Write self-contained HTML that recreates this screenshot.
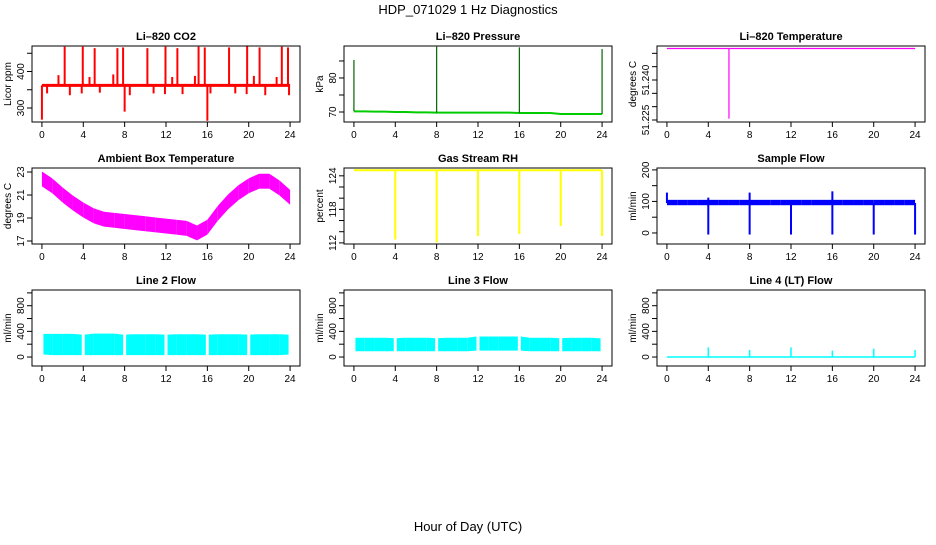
<!DOCTYPE html>
<html><head><meta charset="utf-8"><style>
body{margin:0;background:#fff}
svg text{font-family:"Liberation Sans",Helvetica,sans-serif}
</style></head><body>
<svg id="c" width="936" height="540" xmlns="http://www.w3.org/2000/svg">
<rect width="936" height="540" fill="#fff"/>
<text x="468" y="14" text-anchor="middle" font-size="13">HDP_071029  1 Hz Diagnostics</text>
<text x="468" y="531" text-anchor="middle" font-size="13">Hour of Day (UTC)</text>
</svg>
<script>
// ---- data ----
const hours = [0,1,2,3,4,5,6,7,8,9,10,11,12,13,14,15,16,17,18,19,20,21,22,23,24];
const xTicks = [0,4,8,12,16,20,24];
// CO2
const co2Base = 362;
const co2SpikeT = [2.2,3.95,5.1,7.3,7.85,10.2,11.95,13.1,15.15,15.75,18.1,19.85,21.05,23.2,23.8,1.6,4.6,6.9,12.6,14.8,20.5,22.7,0.5,2.7,3.85,5.6,8.5,10.8,11.9,13.6,16.3,18.7,19.8,21.6,23.9,0,8,16];
const co2SpikeV = [468,468,464,464,466,464,468,464,468,466,466,470,466,468,466,390,385,392,385,388,388,385,340,335,340,342,335,340,338,338,340,340,338,335,335,268,290,265];
// Pressure
const presBase = [70.2,70.2,70.1,70.1,70.0,70.0,69.9,69.9,69.8,69.8,69.8,69.8,69.8,69.8,69.8,69.8,69.7,69.7,69.7,69.7,69.4,69.4,69.4,69.4,69.4];
const presSpikeT = [0,8,16,24];
const presSpikeV = [85.3,89.2,89.0,88.5];
// Li-820 temperature
const tempBase = 51.2518;
const tempSpikeT = [6];
const tempSpikeV = [51.2255];
// Ambient box temp
const ambMid = [22.4,21.8,21.0,20.3,19.7,19.2,18.9,18.8,18.7,18.6,18.5,18.4,18.3,18.2,18.1,17.7,18.2,19.4,20.4,21.2,21.8,22.2,22.2,21.6,20.8];
const ambHalf = 0.65;
// RH
const rhBase = 125;
const rhSpikeT = [4,8,12,16,20,24];
const rhSpikeV = [112.6,112.1,113.2,113.6,115.0,113.2];
// Sample flow
const sfHi = 105, sfLo = 88;
const sfSpikeT = [0,4,4,8,8,12,16,16,20,24];
const sfSpikeV = [128,-5,112,128,-5,-5,132,-5,-5,-5];
// Line flows
const l2Hi = [360,360,360,360,350,365,365,365,350,355,355,355,350,355,355,355,350,355,355,355,350,355,355,355,350];
const l2Lo = [40,30,30,30,30,30,30,30,30,30,30,30,30,30,30,30,30,30,30,30,30,30,30,30,40];
const l3Hi = [300,300,300,300,295,300,300,300,295,300,300,300,320,320,320,320,320,300,300,300,295,300,300,300,290];
const l3Lo = [90,90,90,90,90,90,90,90,90,90,90,90,100,100,100,100,100,90,90,90,90,90,90,90,90];
const l4Base = 0;
const l4SpikeT = [4,8,12,16,20,24];
const l4SpikeV = [150,110,150,100,130,110];

// ---- layout ----
const NS='http://www.w3.org/2000/svg';
const svg=document.getElementById('c');
const colL=[32,344,657], rowT=[46,168,290], W=268, H=76;
function mk(tag,attrs,parent){const e=document.createElementNS(NS,tag);for(const k in attrs)e.setAttribute(k,attrs[k]);(parent||svg).appendChild(e);return e;}
function panel(c,r,name,title,ylab,ymin,ymax,yt,yl){
  const g=mk('g',{});
  
  
  const L=colL[c],T=rowT[r];
  const sx=h=>L+(h+0.96)/25.92*W;
  const sy=v=>T+H-(v-ymin)/(ymax-ymin)*H;
  const t=mk('text',{x:L+W/2,y:T-6,'text-anchor':'middle','font-size':11,'font-weight':'bold'},g);t.textContent=title;
  
  const yl2=mk('text',{transform:`translate(${L-21},${T+H/2}) rotate(-90)`,'text-anchor':'middle','font-size':10},g);yl2.textContent=ylab;
  
  xTicks.forEach(h=>{const x=sx(h);mk('line',{x1:x,x2:x,y1:T+H,y2:T+H+5,stroke:'#000'},g);
    const tx=mk('text',{x:x,y:T+H+16,'text-anchor':'middle','font-size':10},g);tx.textContent=h;
    });
  yt.forEach((v,i)=>{const y=sy(v);mk('line',{x1:L-5,x2:L,y1:y,y2:y,stroke:'#000'},g);
    if(yl[i]!==''){const tx=mk('text',{transform:`translate(${L-8},${y}) rotate(-90)`,'text-anchor':'middle','font-size':10},g);tx.textContent=yl[i];
    }});
  return {g,sx,sy,L,T,close:()=>{const f=mk('rect',{x:L,y:T,width:W,height:H,fill:'none',stroke:'#000'},g);}};
}
function spikes(p,ts,vs,base,col,w,name){ts.forEach((t,i)=>{const b=typeof base==='function'?base(t):base;const l=mk('line',{x1:p.sx(t),x2:p.sx(t),y1:p.sy(b),y2:p.sy(vs[i]),stroke:col,'stroke-width':w},p.g);});}
function band(p,hi,lo,col,name,gaps){
  hours.slice(0,-1).forEach((h,i)=>{
    const x0=p.sx(h)+(gaps&&h%4==0?1.5:0), x1=p.sx(h+1)-(gaps&&(h+1)%4==0?1.5:0);
    const pts=`${x0},${p.sy(hi[i])} ${x1},${p.sy(hi[i+1])} ${x1},${p.sy(lo[i+1])} ${x0},${p.sy(lo[i])}`;
    const e=mk('polygon',{points:pts,fill:col},p.g);});
}
function line(p,vals,col,w,name){const pts=hours.map((h,i)=>p.sx(h)+','+p.sy(vals[i])).join(' ');const e=mk('polyline',{points:pts,fill:'none',stroke:col,'stroke-width':w},p.g);}

// CO2
let p=panel(0,0,'co2','Li\u2013820 CO2','Licor ppm',261.6,469.9,[300,350,400,450],['300','','400','']);
line(p,hours.map(()=>co2Base),'#f00',3,'co2-line');spikes(p,co2SpikeT,co2SpikeV,co2Base,'#f00',2,'co2-spike');p.close();
// Pressure
p=panel(1,0,'pressure','Li\u2013820 Pressure','kPa',67.06,89.4,[70,75,80,85],['70','','80','']);
line(p,presBase,'#0c0',2,'pressure-line');spikes(p,presSpikeT,presSpikeV,t=>presBase[Math.round(t)],'#060',1.2,'pressure-spike');p.close();
// Temperature
p=panel(2,0,'li820-temp','Li\u2013820 Temperature','degrees C',51.22425,51.25275,[51.225,51.230,51.235,51.240,51.245,51.250],['51.225','','','51.240','','']);
line(p,hours.map(()=>tempBase),'#f0f',1.2,'temp-line');spikes(p,tempSpikeT,tempSpikeV,tempBase,'#f0f',1.2,'temp-spike');p.close();
// Ambient
p=panel(0,1,'ambient','Ambient Box Temperature','degrees C',16.74,23.35,[17,19,21,23],['17','19','21','23']);
band(p,ambMid.map(v=>v+ambHalf),ambMid.map(v=>v-ambHalf),'#f0f','ambient-band',false);p.close();
// RH
p=panel(1,1,'rh','Gas Stream RH','percent',111.8,125.4,[112,114,116,118,120,122,124],['112','','','118','','','124']);
line(p,hours.map(()=>rhBase),'#ff0',2,'rh-line');spikes(p,rhSpikeT,rhSpikeV,rhBase,'#ff0',2,'rh-spike');p.close();
// Sample flow
p=panel(2,1,'sample-flow','Sample Flow','ml/min',-35,206,[0,50,100,150,200],['0','','100','','200']);
band(p,hours.map(()=>sfHi),hours.map(()=>sfLo),'#00f','sample-flow-band',false);spikes(p,sfSpikeT,sfSpikeV,95,'#00f',2,'sample-flow-spike');p.close();
// Line flows
const lt=[0,200,400,600,800,1000], ll=['0','','400','','800',''];
p=panel(0,2,'line2','Line 2 Flow','ml/min',-140,1045,lt,ll);band(p,l2Hi,l2Lo,'#0ff','line2-band',true);p.close();
p=panel(1,2,'line3','Line 3 Flow','ml/min',-140,1045,lt,ll);band(p,l3Hi,l3Lo,'#0ff','line3-band',true);p.close();
p=panel(2,2,'line4','Line 4 (LT) Flow','ml/min',-140,1045,lt,ll);
line(p,hours.map(()=>l4Base),'#0ff',1.5,'line4-line');spikes(p,l4SpikeT,l4SpikeV,l4Base,'#0ff',1.5,'line4-spike');p.close();
</script>
</body></html>
